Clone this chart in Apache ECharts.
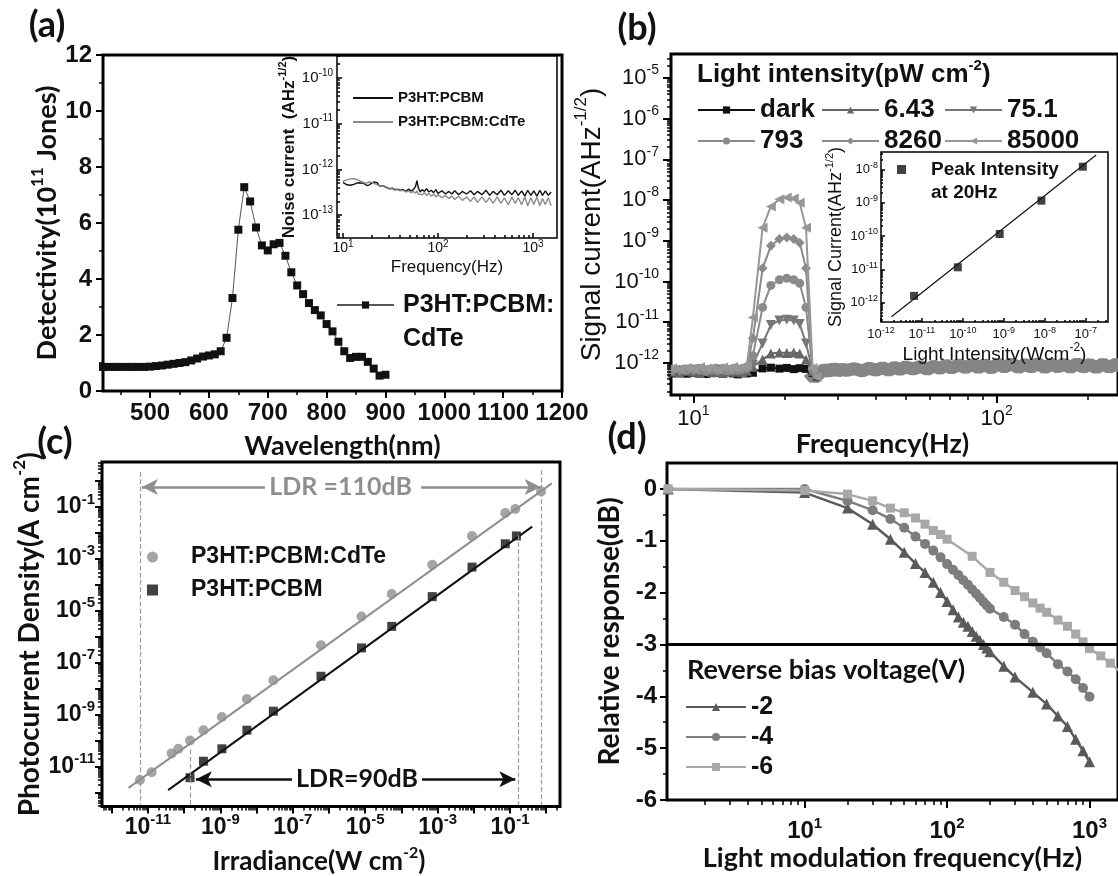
<!DOCTYPE html>
<html>
<head>
<meta charset="utf-8">
<script src="https://cdn.jsdelivr.net/npm/echarts@6/dist/echarts.min.js"></script>
<style>
  html, body { margin: 0; padding: 0; background: #fff; }
  #chart { width: 1118px; height: 876px; }
</style>
</head>
<body>
<div id="chart"></div>
<script>
// ---- (a) detectivity spectrum ----
const wavelength = [420, 430, 440, 450, 460, 470, 480, 490, 500, 510, 520, 530, 540, 550, 560, 570, 580, 590, 600,
  610, 620, 630, 640, 650, 660, 670, 680, 690, 700, 710, 720, 730, 740, 750, 760, 770, 780, 790, 800,
  810, 820, 830, 840, 850, 860, 870, 880, 890, 900]
const detectivity = [0.86, 0.86, 0.86, 0.86, 0.86, 0.86, 0.86, 0.86, 0.87, 0.89, 0.91, 0.94, 0.97, 1.0, 1.03, 1.09, 1.16, 1.23, 1.27,
  1.31, 1.42, 1.9, 3.32, 5.76, 7.28, 6.77, 5.84, 5.2, 5.02, 5.24, 5.29, 4.83, 4.24, 3.77, 3.46, 3.14, 2.89, 2.7, 2.39,
  2.13, 1.76, 1.42, 1.18, 1.22, 1.22, 1.04, 0.8, 0.55, 0.58]
const wavelengthTicks = [500, 600, 700, 800, 900, 1000, 1100, 1200]
const wavelengthMinor = [450, 550, 650, 750, 850, 950, 1050, 1150]

// (a) inset: noise current
const noiseFreq = [10, 11, 12, 13, 14, 15, 16, 17, 18, 19, 20, 21, 22, 23, 24, 25, 27, 29, 31, 33, 35, 37, 40, 43, 46, 49,
  52, 55, 58, 60, 62, 65, 68, 72, 76, 80, 85, 90, 95, 100, 110, 120, 130, 140, 150, 165, 180, 200, 220, 240, 260,
  290, 320, 350, 380, 420, 460, 500, 550, 600, 650, 700, 760, 820, 880, 950, 1020, 1100, 1180, 1260, 1350, 1450, 1550]
const noisePcbm = [5.2e-13, 4.6e-13, 4.5e-13, 4.7e-13, 5.0e-13, 5.1e-13, 5.0e-13, 4.8e-13, 4.4e-13, 4.6e-13, 5.0e-13, 5.3e-13,
  5.5e-13, 5.1e-13, 4.4e-13, 4.1e-13, 4.3e-13, 4.0e-13, 3.8e-13, 3.9e-13, 3.6e-13, 3.7e-13, 3.5e-13, 3.6e-13, 3.3e-13, 3.7e-13,
  3.4e-13, 3.6e-13, 4.2e-13, 5.7e-13, 4.0e-13, 3.2e-13, 3.6e-13, 3.3e-13, 3.8e-13, 3.2e-13, 3.5e-13, 3.1e-13, 3.6e-13, 3.0e-13,
  3.4e-13, 2.9e-13, 3.3e-13, 2.9e-13, 3.4e-13, 2.8e-13, 3.3e-13, 2.9e-13, 3.4e-13, 2.8e-13, 3.3e-13, 2.8e-13, 3.5e-13, 2.7e-13,
  3.3e-13, 2.8e-13, 3.5e-13, 2.7e-13, 3.4e-13, 2.8e-13, 3.5e-13, 2.7e-13, 3.4e-13, 2.6e-13, 3.5e-13, 2.7e-13, 3.4e-13, 2.6e-13,
  3.5e-13, 2.7e-13, 3.4e-13, 2.7e-13, 3.2e-13]
const noiseCdte = [5.5e-13, 5.9e-13, 6.2e-13, 6.3e-13, 6.0e-13, 5.6e-13, 5.3e-13, 5.0e-13, 5.1e-13, 5.3e-13, 5.2e-13, 5.0e-13,
  4.7e-13, 4.6e-13, 4.5e-13, 4.3e-13, 4.2e-13, 3.9e-13, 3.7e-13, 3.8e-13, 3.5e-13, 3.6e-13, 3.4e-13, 3.5e-13, 3.2e-13, 3.4e-13,
  3.1e-13, 3.3e-13, 3.0e-13, 3.4e-13, 2.9e-13, 3.2e-13, 2.8e-13, 3.1e-13, 2.7e-13, 3.0e-13, 2.6e-13, 2.9e-13, 2.5e-13, 2.8e-13,
  2.4e-13, 2.7e-13, 2.3e-13, 2.6e-13, 2.2e-13, 2.6e-13, 2.1e-13, 2.5e-13, 2.0e-13, 2.5e-13, 1.9e-13, 2.5e-13, 1.9e-13, 2.4e-13,
  1.8e-13, 2.5e-13, 1.8e-13, 2.4e-13, 1.7e-13, 2.5e-13, 1.8e-13, 2.4e-13, 1.7e-13, 2.5e-13, 1.6e-13, 2.4e-13, 1.7e-13, 2.5e-13,
  1.6e-13, 2.3e-13, 1.7e-13, 2.4e-13, 1.6e-13]
const noiseFreqTicks = [10, 100, 1000]
const noiseCurrentTicks = [1e-13, 1e-12, 1e-11, 1e-10]

// ---- (b) signal current vs frequency ----
const intensityNames = ['dark', '6.43', '75.1', '793', '8260', '85000']
const signalFreq = [8.5, 9, 9.5, 10, 10.5, 11, 11.5, 12, 12.5, 13, 13.5, 14, 14.5, 15, 15.7, 16.9, 18, 19.2, 20.3, 21.4, 22.4, 23.5, 24.7, 25.5]
const signalDark = [5.5e-13, 5.8e-13, 5.4e-13, 5.6e-13, 5.9e-13, 5.3e-13, 5.6e-13, 5.7e-13, 5.4e-13, 5.8e-13, 5.5e-13, 5.2e-13,
  5.6e-13, 5.5e-13, 5.7e-13, 7.3e-13, 7.6e-13, 7.2e-13, 7.5e-13, 7.0e-13, 7.4e-13, 7.1e-13, 5.6e-13, 4.6e-13]
const signal643 = [6.1e-13, 5.7e-13, 6.4e-13, 6.0e-13, 5.6e-13, 6.3e-13, 5.9e-13, 6.2e-13, 5.8e-13, 6.5e-13, 6.0e-13, 6.3e-13,
  5.9e-13, 6.4e-13, 8.0e-13, 1.2e-12, 1.7e-12, 1.8e-12, 1.75e-12, 1.8e-12, 1.7e-12, 1.2e-12, 6.2e-13, 5.0e-13]
const signal751 = [6.6e-13, 6.2e-13, 6.8e-13, 6.3e-13, 7.0e-13, 6.5e-13, 6.1e-13, 6.9e-13, 6.4e-13, 6.7e-13, 6.2e-13, 6.8e-13,
  6.5e-13, 7.0e-13, 9.0e-13, 3.0e-12, 8.5e-12, 1.1e-11, 1.15e-11, 1.1e-11, 9.0e-12, 3.0e-12, 6.5e-13, 5.2e-13]
const signal793 = [6.3e-13, 6.9e-13, 6.5e-13, 7.1e-13, 6.6e-13, 6.2e-13, 7.0e-13, 6.4e-13, 6.8e-13, 6.3e-13, 7.2e-13, 6.6e-13,
  6.9e-13, 7.3e-13, 1.5e-12, 2.3e-11, 8.0e-11, 1.1e-10, 1.2e-10, 1.1e-10, 9.0e-11, 2.3e-11, 6.8e-13, 5.4e-13]
const signal8260 = [7.0e-13, 6.4e-13, 6.9e-13, 6.5e-13, 7.3e-13, 6.8e-13, 7.1e-13, 6.6e-13, 7.4e-13, 6.9e-13, 6.5e-13, 7.2e-13,
  7.0e-13, 7.6e-13, 4.0e-12, 2.1e-10, 7.5e-10, 1.1e-9, 1.2e-9, 1.1e-9, 9.0e-10, 2.1e-10, 7.0e-13, 5.0e-13]
const signal85000 = [7.4e-13, 6.8e-13, 7.6e-13, 7.0e-13, 7.8e-13, 7.2e-13, 7.5e-13, 6.9e-13, 7.7e-13, 7.3e-13, 7.9e-13, 7.4e-13,
  8.1e-13, 8.5e-13, 1.3e-11, 2.1e-9, 7.0e-9, 1.05e-8, 1.15e-8, 1.1e-8, 8.6e-9, 2.1e-9, 7.5e-13, 4.5e-13]
// dense noise floor after the light pulse (all curves overlap there)
const floorFreq = [24, 25, 26, 27, 28, 29, 30, 31, 32, 34, 36, 38, 40, 42, 44, 46, 48, 50, 53, 56, 59, 62, 65, 68, 71, 75,
  79, 83, 87, 91, 96, 101, 106, 112, 118, 124, 130, 137, 144, 151, 159, 167, 175, 184, 193, 203, 213, 224, 235, 247, 260]
const floorCurrent = [6.0e-13, 4.2e-13, 5.5e-13, 7.0e-13, 6.0e-13, 7.5e-13, 6.2e-13, 7.0e-13, 6.5e-13, 7.2e-13, 6.3e-13, 7.4e-13,
  6.6e-13, 7.6e-13, 6.5e-13, 7.8e-13, 6.8e-13, 8.0e-13, 7.0e-13, 8.2e-13, 6.9e-13, 8.4e-13, 7.2e-13, 8.8e-13, 7.4e-13, 9.0e-13,
  7.5e-13, 9.2e-13, 7.6e-13, 9.0e-13, 7.4e-13, 9.3e-13, 7.8e-13, 9.5e-13, 7.6e-13, 9.2e-13, 7.8e-13, 9.6e-13, 7.5e-13, 9.3e-13,
  7.9e-13, 9.4e-13, 7.6e-13, 9.6e-13, 7.8e-13, 9.2e-13, 7.5e-13, 9.5e-13, 7.7e-13, 9.3e-13, 7.8e-13]
const signalFreqTicks = [10, 100]
const signalCurrentTicks = [1e-12, 1e-11, 1e-10, 1e-9, 1e-8, 1e-7, 1e-6, 1e-5]

// (b) inset: peak signal at 20 Hz
const peakIntensity = [6.43e-12, 7.51e-11, 7.93e-10, 8.26e-9, 8.5e-8]
const peakCurrent = [1.6e-12, 1.15e-11, 1.15e-10, 1.15e-9, 1.2e-8]
const peakFitX = [1.8e-12, 1.8e-7]
const peakFitY = [3.8e-13, 2.7e-8]
const peakXTicks = [1e-12, 1e-11, 1e-10, 1e-9, 1e-8, 1e-7]
const peakYTicks = [1e-12, 1e-11, 1e-10, 1e-9, 1e-8]

// ---- (c) photocurrent vs irradiance ----
const cdteIrr = [6e-12, 1.26e-11, 4.5e-11, 6.9e-11, 1.45e-10, 3.4e-10, 1.1e-9, 5.4e-9, 2.9e-8, 6.0e-7, 7.9e-6, 5.4e-5, 7.1e-4, 8.9e-3, 7.4e-2, 1.4e-1, 7.2e-1]
const cdteJ = [3e-12, 6e-12, 3.2e-11, 4.8e-11, 1e-10, 2.5e-10, 8.1e-10, 4e-9, 2.1e-8, 4.7e-7, 6e-6, 4.4e-5, 5.9e-4, 7.6e-3, 5.8e-2, 8.3e-2, 3.9e-1]
const pcbmIrr = [1.45e-10, 3.4e-10, 1.1e-9, 5.4e-9, 2.9e-8, 6e-7, 7.9e-6, 5.4e-5, 7.1e-4, 8.9e-3, 7.4e-2, 1.5e-1]
const pcbmJ = [3.7e-12, 1.6e-11, 4.8e-11, 2.5e-10, 1.35e-9, 3e-8, 3.7e-7, 2.5e-6, 3.5e-5, 4.8e-4, 3.8e-3, 7.6e-3]
const cdteFitX = [2.9e-12, 1.43]
const cdteFitY = [1.5e-12, 0.81]
const pcbmFitX = [3.6e-11, 0.41]
const pcbmFitY = [1.23e-12, 0.0174]
const irrLabelTicks = [1e-11, 1e-9, 1e-7, 1e-5, 1e-3, 1e-1]
const irrTicks = [1e-12, 1e-11, 1e-10, 1e-9, 1e-8, 1e-7, 1e-6, 1e-5, 1e-4, 1e-3, 1e-2, 1e-1, 1]
const jLabelTicks = [1e-11, 1e-9, 1e-7, 1e-5, 1e-3, 1e-1]
const jTicks = [1e-12, 1e-11, 1e-10, 1e-9, 1e-8, 1e-7, 1e-6, 1e-5, 1e-4, 1e-3, 1e-2, 1e-1, 1]

// ---- (d) frequency response ----
const biasNames = ['-2', '-4', '-6']
const freqBias2 = [1.1, 10, 20, 30, 40, 50, 60, 70, 80, 90, 100, 110, 120, 130, 140, 150, 160, 170, 180, 190, 200, 250, 300, 400, 500, 600, 700, 800, 900, 1000]
const respBias2 = [0, -0.07, -0.37, -0.68, -0.97, -1.22, -1.44, -1.61, -1.8, -2.0, -2.17, -2.33, -2.47, -2.57, -2.65, -2.75, -2.84, -2.92, -3.0, -3.07, -3.14, -3.42, -3.63, -3.92, -4.15, -4.38, -4.58, -4.83, -5.05, -5.26]
const freqBias4 = [1.1, 10, 20, 30, 40, 50, 60, 70, 80, 90, 100, 110, 120, 130, 140, 150, 160, 170, 180, 190, 200, 250, 300, 350, 400, 450, 500, 600, 700, 800, 900, 1000]
const respBias4 = [0, 0, -0.23, -0.41, -0.58, -0.75, -0.92, -1.06, -1.19, -1.32, -1.45, -1.56, -1.66, -1.76, -1.85, -1.94, -2.02, -2.1, -2.18, -2.25, -2.31, -2.47, -2.62, -2.8, -2.95, -3.06, -3.17, -3.38, -3.52, -3.67, -3.84, -4.01]
const freqBias6 = [1.1, 10, 20, 30, 40, 50, 60, 70, 80, 90, 100, 150, 200, 250, 300, 350, 400, 450, 500, 600, 700, 800, 900, 1000, 1200, 1400, 1600]
const respBias6 = [0, -0.03, -0.1, -0.23, -0.37, -0.46, -0.56, -0.68, -0.8, -0.88, -0.97, -1.3, -1.61, -1.8, -1.96, -2.08, -2.2, -2.3, -2.38, -2.53, -2.65, -2.8, -2.95, -3.08, -3.22, -3.36, -3.5]
const modFreqTicks = [10, 100, 1000]
const respTicks = [-6, -5, -4, -3, -2, -1, 0]
const respMinor = [-5.5, -4.5, -3.5, -2.5, -1.5, -0.5]

const ARIAL = '"Liberation Sans", Arial, sans-serif'
const LATO = 'Lato, "Open Sans", sans-serif'
const INK = '#111'

const pairs = (xs, ys) => xs.map((x, i) => [x, ys[i]])
const noLine = { show: false, onZero: false }

// minor ticks of a log axis: 2..9 in every decade
function logMinor(e0, e1) {
  const out = []
  for (let e = e0; e <= e1; e++) {
    for (let k = 2; k <= 9; k++) out.push(Number(k + 'e' + e))
  }
  return out
}

function supLabel(base, sup, weight, margin, values) {
  return {
    margin: margin,
    customValues: values,
    formatter: v => '{b|10}{s|' + Math.round(Math.log10(v)) + '}',
    rich: {
      b: { fontFamily: ARIAL, fontSize: base, fontWeight: weight, color: INK, lineHeight: Math.round(base * 1.3) },
      s: { fontFamily: ARIAL, fontSize: sup, fontWeight: weight, color: INK, lineHeight: sup, verticalAlign: 'top' }
    }
  }
}

function richName(size, sup, family, weight, padding) {
  return {
    color: INK,
    padding: padding || 0,
    rich: {
      t: { fontFamily: family, fontSize: size, fontWeight: weight, color: INK, lineHeight: Math.round(size * 1.35) },
      s: { fontFamily: family, fontSize: Math.round(size * 0.62), fontWeight: weight, color: INK, lineHeight: sup, verticalAlign: 'top' }
    }
  }
}

function plainName(size, family, weight, padding) {
  return { fontFamily: family, fontSize: size, fontWeight: weight, color: INK, padding: padding || 0 }
}

function tick(values, length, inside, width) {
  return { show: true, customValues: values, length: length, inside: !!inside, lineStyle: { color: '#000', width: width || 2 } }
}

function minorAxis(type, grid, min, max, values, length, inside, position) {
  return {
    type: type, gridIndex: grid, min: min, max: max, position: position, z: 12,
    axisLine: noLine, splitLine: { show: false }, axisLabel: { show: false },
    axisTick: tick(values, length, inside, 1.5)
  }
}

const frame = (left, top, width, height, bw) => ({
  left, top, width, height, show: true, borderColor: '#000', borderWidth: bw, backgroundColor: 'transparent'
})

const chart = echarts.init(document.getElementById('chart'))

const xAxis = [
  // 0: (a) wavelength
  {
    type: 'value', gridIndex: 0, min: 420, max: 1200, position: 'bottom',
    axisLine: noLine, splitLine: { show: false },
    axisTick: tick(wavelengthTicks, 7),
    axisLabel: {
      customValues: wavelengthTicks, margin: 10, showMaxLabel: true, hideOverlap: false, formatter: v => String(v),
      fontFamily: ARIAL, fontWeight: 'bold', fontSize: 24, color: INK
    },
    name: 'Wavelength(nm)', nameLocation: 'middle', nameGap: 42, nameTextStyle: plainName(27, LATO, 'bold', [0, 0, 0, 20])
  },
  minorAxis('value', 0, 420, 1200, wavelengthMinor, 4, false, 'bottom'),
  // 2: (a) inset frequency
  {
    type: 'log', logBase: 10, gridIndex: 1, min: 8.65, max: 1790, position: 'bottom', z: 12,
    axisLine: noLine, splitLine: { show: false },
    axisTick: tick(noiseFreqTicks, 5, true, 1.5),
    axisLabel: supLabel(14, 10, 'normal', 1, noiseFreqTicks),
    name: 'Frequency(Hz)', nameLocation: 'middle', nameGap: 21, nameTextStyle: plainName(17, ARIAL, 'normal')
  },
  minorAxis('log', 1, 8.65, 1790, logMinor(0, 3), 3, true, 'bottom'),
  // 4: (b) frequency
  {
    type: 'log', logBase: 10, gridIndex: 2, min: 8.43, max: 251.2, position: 'bottom',
    axisLine: noLine, splitLine: { show: false },
    axisTick: tick(signalFreqTicks, 8),
    axisLabel: supLabel(22, 14, 'normal', 9, signalFreqTicks),
    name: 'Frequency(Hz)', nameLocation: 'middle', nameGap: 36, nameTextStyle: plainName(27, LATO, 'bold', [0, 24, 0, 0])
  },
  minorAxis('log', 2, 8.43, 251.2, logMinor(0, 2), 5, false, 'bottom'),
  // 6: (b) inset light intensity
  {
    type: 'log', logBase: 10, gridIndex: 3, min: 1e-12, max: 3.5e-7, position: 'bottom', z: 12,
    axisLine: noLine, splitLine: { show: false },
    axisTick: tick(peakXTicks, 4, true, 1.5),
    axisLabel: supLabel(13, 9, 'normal', 4, peakXTicks),
    name: '{t|Light Intensity(Wcm}{s|-2}{t|)}', nameLocation: 'middle', nameGap: 18, nameTextStyle: richName(19, 10, ARIAL, 'normal')
  },
  minorAxis('log', 3, 1e-12, 3.5e-7, logMinor(-12, -7), 2, true, 'bottom'),
  // 8: (c) irradiance
  {
    type: 'log', logBase: 10, gridIndex: 4, min: 5.37e-13, max: 2.4, position: 'bottom',
    axisLine: noLine, splitLine: { show: false },
    axisTick: tick(irrTicks, 7),
    axisLabel: supLabel(23, 15, 'bold', 6, irrLabelTicks),
    name: '{t|Irradiance(W cm}{s|-2}{t|)}', nameLocation: 'middle', nameGap: 38, nameTextStyle: richName(26, 14, LATO, 'bold', [0, 24, 0, 0])
  },
  minorAxis('log', 4, 5.37e-13, 2.4, logMinor(-13, 0), 4, false, 'bottom'),
  // 10: (d) modulation frequency
  {
    type: 'log', logBase: 10, gridIndex: 5, min: 1.08, max: 1585, position: 'bottom',
    axisLine: noLine, splitLine: { show: false },
    axisTick: tick(modFreqTicks, 8),
    axisLabel: supLabel(24, 15, 'bold', 16, modFreqTicks),
    name: 'Light modulation frequency(Hz)', nameLocation: 'middle', nameGap: 38, nameTextStyle: plainName(27, LATO, 'bold')
  },
  minorAxis('log', 5, 1.08, 1585, logMinor(0, 3), 5, false, 'bottom')
]

const yAxis = [
  // 0: (a) detectivity
  {
    type: 'value', gridIndex: 0, min: 0, max: 12, interval: 2, position: 'left',
    axisLine: noLine, splitLine: { show: false },
    axisTick: { length: 7, lineStyle: { color: '#000', width: 2 } },
    minorTick: { show: true, splitNumber: 2, length: 4, lineStyle: { color: '#000', width: 1.5 } },
    axisLabel: { margin: 11, fontFamily: ARIAL, fontWeight: 'bold', fontSize: 24, color: INK },
    name: '{t|Detectivity(10}{s|11}{t| Jones)}', nameLocation: 'middle', nameGap: 38, nameTextStyle: richName(27, 14, LATO, 'bold')
  },
  // 1: (a) inset noise current
  {
    type: 'log', logBase: 10, gridIndex: 1, min: 3.16e-14, max: 3.02e-10, position: 'left', z: 12,
    axisLine: noLine, splitLine: { show: false },
    axisTick: tick(noiseCurrentTicks, 5, true, 1.5),
    axisLabel: supLabel(15, 10, 'normal', 4, noiseCurrentTicks),
    name: '{t|Noise current  (AHz}{s|-1/2}{t|)}', nameLocation: 'middle', nameGap: 34, nameTextStyle: richName(17, 10, ARIAL, 'bold')
  },
  minorAxis('log', 1, 3.16e-14, 3.02e-10, logMinor(-14, -10), 3, true, 'left'),
  // 3: (b) signal current
  {
    type: 'log', logBase: 10, gridIndex: 2, min: 1.62e-13, max: 3.89e-5, position: 'left',
    axisLine: noLine, splitLine: { show: false },
    axisTick: tick(signalCurrentTicks, 8),
    axisLabel: supLabel(22, 14, 'normal', 12, signalCurrentTicks),
    name: '{t|Signal current(AHz}{s|-1/2}{t|)}', nameLocation: 'middle', nameGap: 60, nameTextStyle: richName(28, 15, ARIAL, 'normal')
  },
  minorAxis('log', 2, 1.62e-13, 3.89e-5, logMinor(-13, -5), 4, false, 'left'),
  // 5: (b) inset signal current
  {
    type: 'log', logBase: 10, gridIndex: 3, min: 2.63e-13, max: 3.31e-8, position: 'left', z: 12,
    axisLine: noLine, splitLine: { show: false },
    axisTick: tick(peakYTicks, 4, true, 1.5),
    axisLabel: supLabel(13, 9, 'normal', 3, peakYTicks),
    name: '{t|Signal Current(AHz}{s|-1/2}{t|)}', nameLocation: 'middle', nameGap: 33, nameTextStyle: richName(18, 10, ARIAL, 'normal')
  },
  minorAxis('log', 3, 2.63e-13, 3.31e-8, logMinor(-13, -8), 2, true, 'left'),
  // 7: (c) photocurrent density
  {
    type: 'log', logBase: 10, gridIndex: 4, min: 2.88e-13, max: 5.37, position: 'left',
    axisLine: noLine, splitLine: { show: false },
    axisTick: tick(jTicks, 7),
    axisLabel: supLabel(23, 15, 'bold', 7, jLabelTicks),
    name: '{t|Photocurrent Density(A cm}{s|-2}{t|)}', nameLocation: 'middle', nameGap: 53, nameTextStyle: richName(28, 15, LATO, 'bold')
  },
  minorAxis('log', 4, 2.88e-13, 5.37, logMinor(-13, 0), 4, false, 'left'),
  // 9: (d) relative response
  {
    type: 'value', gridIndex: 5, min: -6, max: 0.5, position: 'left',
    axisLine: noLine, splitLine: { show: false },
    axisTick: tick(respTicks, 7),
    axisLabel: { customValues: respTicks, margin: 10, fontFamily: ARIAL, fontWeight: 'bold', fontSize: 24, color: INK },
    name: 'Relative response(dB)', nameLocation: 'middle', nameGap: 43, nameTextStyle: plainName(28, LATO, 'bold')
  },
  minorAxis('value', 5, -6, 0.5, respMinor, 4, false, 'left')
]

const signalStyles = [
  { data: signalDark, symbol: 'rect', rotate: 0, color: '#111111', size: 8 },
  { data: signal643, symbol: 'triangle', rotate: 0, color: '#666666', size: 10 },
  { data: signal751, symbol: 'triangle', rotate: 180, color: '#777777', size: 10 },
  { data: signal793, symbol: 'circle', rotate: 0, color: '#8a8a8a', size: 9 },
  { data: signal8260, symbol: 'diamond', rotate: 0, color: '#8a8a8a', size: 10 },
  { data: signal85000, symbol: 'triangle', rotate: 90, color: '#979797', size: 10 }
]
const signalSeries = signalStyles.map((s, i) => ({
  name: intensityNames[i], type: 'line', xAxisIndex: 4, yAxisIndex: 3,
  data: pairs(signalFreq, s.data), symbol: s.symbol, symbolRotate: s.rotate, symbolSize: s.size,
  itemStyle: { color: s.color }, lineStyle: { color: s.color, width: 2 }, z: 3 + i
}))

const dashed = { color: '#9a9a9a', width: 1.2, type: 'dashed' }
const ldrFont = { fontFamily: LATO, fontWeight: 'bold', fontSize: 25 }

const series = [
  // (a)
  {
    name: 'P3HT:PCBM:CdTe (D*)', type: 'line', xAxisIndex: 0, yAxisIndex: 0,
    data: pairs(wavelength, detectivity), symbol: 'rect', symbolSize: 8,
    itemStyle: { color: INK }, lineStyle: { color: '#555', width: 1 }
  },
  {
    name: 'P3HT:PCBM (noise)', type: 'line', xAxisIndex: 2, yAxisIndex: 1, z: 12,
    data: pairs(noiseFreq, noisePcbm), symbol: 'none', itemStyle: { color: INK }, lineStyle: { color: INK, width: 1.4 }
  },
  {
    name: 'P3HT:PCBM:CdTe (noise)', type: 'line', xAxisIndex: 2, yAxisIndex: 1, z: 12,
    data: pairs(noiseFreq, noiseCdte), symbol: 'none', itemStyle: { color: '#8a8a8a' }, lineStyle: { color: '#8a8a8a', width: 1.4 }
  },
  // (b)
  {
    name: 'noise floor', type: 'line', xAxisIndex: 4, yAxisIndex: 3, z: 2, silent: true,
    data: pairs(floorFreq, floorCurrent), symbol: 'none', lineStyle: { color: '#858585', width: 13 }
  },
  ...signalSeries,
  {
    name: 'Peak Intensity at 20Hz', type: 'scatter', xAxisIndex: 6, yAxisIndex: 5, z: 13,
    data: pairs(peakIntensity, peakCurrent), symbol: 'rect', symbolSize: 8, itemStyle: { color: INK }
  },
  {
    name: 'peak fit', type: 'line', xAxisIndex: 6, yAxisIndex: 5, z: 12,
    data: pairs(peakFitX, peakFitY), symbol: 'none', lineStyle: { color: INK, width: 1.2 }
  },
  // (c)
  {
    name: 'P3HT:PCBM:CdTe fit', type: 'line', xAxisIndex: 8, yAxisIndex: 7,
    data: pairs(cdteFitX, cdteFitY), symbol: 'none', lineStyle: { color: '#8f8f8f', width: 2 },
    markLine: {
      silent: true, symbol: ['none', 'none'], label: { show: false }, lineStyle: dashed,
      data: [
        [{ coord: [6e-12, 2.2] }, { coord: [6e-12, 3.2e-13] }],
        [{ coord: [0.74, 2.6] }, { coord: [0.74, 3.2e-13] }],
        [{ coord: [1.7e-8, 0.59], lineStyle: { color: '#8f8f8f', width: 2.5, type: 'solid' } },
          { coord: [6.8e-12, 0.59], symbol: 'arrow', symbolSize: [12, 16] }],
        [{ coord: [3.5e-4, 0.59], lineStyle: { color: '#8f8f8f', width: 2.5, type: 'solid' } },
          { coord: [0.7, 0.59], symbol: 'arrow', symbolSize: [12, 16] }]
      ]
    },
    markPoint: {
      silent: true, symbol: 'rect', symbolSize: 1, itemStyle: { color: 'rgba(0,0,0,0)' },
      data: [{ coord: [2.1e-6, 0.59], label: Object.assign({ show: true, position: 'inside', formatter: 'LDR =110dB', color: '#8f8f8f' }, ldrFont) }]
    }
  },
  {
    name: 'P3HT:PCBM fit', type: 'line', xAxisIndex: 8, yAxisIndex: 7,
    data: pairs(pcbmFitX, pcbmFitY), symbol: 'none', lineStyle: { color: INK, width: 2 },
    markLine: {
      silent: true, symbol: ['none', 'none'], label: { show: false }, lineStyle: dashed,
      data: [
        [{ coord: [1.45e-10, 4.5e-11] }, { coord: [1.45e-10, 3.2e-13] }],
        [{ coord: [0.17, 8.3e-3] }, { coord: [0.17, 3.2e-13] }],
        [{ coord: [9.5e-8, 3.2e-12], lineStyle: { color: INK, width: 2.5, type: 'solid' } },
          { coord: [2.1e-10, 3.2e-12], symbol: 'arrow', symbolSize: [12, 16] }],
        [{ coord: [3.7e-4, 3.2e-12], lineStyle: { color: INK, width: 2.5, type: 'solid' } },
          { coord: [0.14, 3.2e-12], symbol: 'arrow', symbolSize: [12, 16] }]
      ]
    },
    markPoint: {
      silent: true, symbol: 'rect', symbolSize: 1, itemStyle: { color: 'rgba(0,0,0,0)' },
      data: [{ coord: [5.9e-6, 3.2e-12], label: Object.assign({ show: true, position: 'inside', formatter: 'LDR=90dB', color: INK }, ldrFont) }]
    }
  },
  {
    name: 'P3HT:PCBM:CdTe', type: 'scatter', xAxisIndex: 8, yAxisIndex: 7,
    data: pairs(cdteIrr, cdteJ), symbol: 'circle', symbolSize: 10, itemStyle: { color: '#8f8f8f' }
  },
  {
    name: 'P3HT:PCBM', type: 'scatter', xAxisIndex: 8, yAxisIndex: 7,
    data: pairs(pcbmIrr, pcbmJ), symbol: 'rect', symbolSize: 9, itemStyle: { color: INK }
  },
  // (d)
  {
    name: '-2', type: 'line', xAxisIndex: 10, yAxisIndex: 9,
    data: pairs(freqBias2, respBias2), symbol: 'triangle', symbolSize: 11,
    itemStyle: { color: '#5a5a5a' }, lineStyle: { color: '#5a5a5a', width: 2.5 },
    markLine: {
      silent: true, symbol: ['none', 'none'], label: { show: false },
      lineStyle: { color: '#000', width: 3, type: 'solid' }, data: [{ yAxis: -3 }]
    }
  },
  {
    name: '-4', type: 'line', xAxisIndex: 10, yAxisIndex: 9,
    data: pairs(freqBias4, respBias4), symbol: 'circle', symbolSize: 10,
    itemStyle: { color: '#7d7d7d' }, lineStyle: { color: '#7d7d7d', width: 2.5 }
  },
  {
    name: '-6', type: 'line', xAxisIndex: 10, yAxisIndex: 9,
    data: pairs(freqBias6, respBias6), symbol: 'rect', symbolSize: 9,
    itemStyle: { color: '#a8a8a8' }, lineStyle: { color: '#a8a8a8', width: 2.5 }
  }
]

const legendText = (size, extra) => Object.assign({ fontFamily: ARIAL, fontWeight: 'bold', fontSize: size, color: INK }, extra || {})
const colLegend = (names, left) => ({
  data: names, left: left, top: 95, orient: 'vertical', padding: 0, itemGap: 1, itemWidth: 57, itemHeight: 9,
  selectedMode: false, textStyle: legendText(26, { lineHeight: 30 })
})

const option = {
  animation: false,
  backgroundColor: '#fff',
  grid: [
    frame(103, 55, 459, 336, 3),
    Object.assign(frame(337, 56, 220, 182, 1.5), { backgroundColor: '#fff', z: 5 }),
    frame(671, 54, 457, 341, 3),
    Object.assign(frame(881, 152, 227, 170, 1.5), { backgroundColor: '#fff', z: 5 }),
    frame(102, 462, 458, 345, 3),
    frame(667, 463, 455, 337, 3)
  ],
  xAxis: xAxis,
  yAxis: yAxis,
  legend: [
    {
      // blank first line keeps the icon level with "P3HT:PCBM:"
      data: ['P3HT:PCBM:CdTe (D*)'], left: 336, top: 254, orient: 'vertical', padding: 0,
      itemWidth: 57, itemHeight: 9, selectedMode: false, formatter: () => ' \nP3HT:PCBM:\nCdTe',
      textStyle: legendText(25, { lineHeight: 34, padding: [0, 0, 0, 4] })
    },
    {
      data: [{ name: 'P3HT:PCBM (noise)', icon: 'rect' }, { name: 'P3HT:PCBM:CdTe (noise)', icon: 'rect' }],
      left: 353, top: 89, orient: 'vertical', padding: 0, z: 13,
      itemGap: 6, itemWidth: 40, itemHeight: 2, selectedMode: false, formatter: n => n.replace(' (noise)', ''),
      textStyle: legendText(15, { lineHeight: 18 })
    },
    colLegend(['dark', '793'], 697),
    colLegend(['6.43', '8260'], 821),
    colLegend(['75.1', '85000'], 944),
    {
      data: ['Peak Intensity at 20Hz'], left: 897, top: 135, orient: 'vertical', padding: 0, z: 13,
      itemWidth: 9, itemHeight: 9, selectedMode: false, formatter: () => ' \nPeak Intensity\nat 20Hz',
      textStyle: legendText(19, { lineHeight: 23, padding: [0, 0, 0, 20] })
    },
    {
      data: ['P3HT:PCBM:CdTe', 'P3HT:PCBM'], left: 147, top: 543, orient: 'vertical', padding: 0,
      itemGap: 5, itemWidth: 11, itemHeight: 11, selectedMode: false,
      textStyle: legendText(23, { lineHeight: 28, padding: [0, 0, 0, 28] })
    },
    {
      data: biasNames, left: 685, top: 693, orient: 'vertical', padding: 0,
      itemGap: 2, itemWidth: 60, itemHeight: 10, selectedMode: false,
      textStyle: legendText(25, { lineHeight: 28 })
    }
  ],
  graphic: [
    { type: 'text', x: 47, y: 25, style: { text: '(a)', fontFamily: LATO, fontSize: 36, fontWeight: 'bold', fill: INK, align: 'center', verticalAlign: 'middle' } },
    { type: 'text', x: 637, y: 28, style: { text: '(b)', fontFamily: LATO, fontSize: 36, fontWeight: 'bold', fill: INK, align: 'center', verticalAlign: 'middle' } },
    { type: 'text', x: 55, y: 442, style: { text: '(c)', fontFamily: LATO, fontSize: 36, fontWeight: 'bold', fill: INK, align: 'center', verticalAlign: 'middle' } },
    { type: 'text', x: 627, y: 437, style: { text: '(d)', fontFamily: LATO, fontSize: 36, fontWeight: 'bold', fill: INK, align: 'center', verticalAlign: 'middle' } },
    {
      type: 'text', x: 697, y: 75, style: {
        text: '{t|Light intensity(pW cm}{s|-2}{t|)}', align: 'left', verticalAlign: 'middle',
        rich: {
          t: { fontFamily: ARIAL, fontSize: 26, fontWeight: 'bold', fill: INK, lineHeight: 34 },
          s: { fontFamily: ARIAL, fontSize: 15, fontWeight: 'bold', fill: INK, lineHeight: 15, verticalAlign: 'top' }
        }
      }
    },
    {
      type: 'text', x: 687, y: 670, style: {
        text: 'Reverse bias voltage(V)', fontFamily: LATO, fontSize: 27, fontWeight: 'bold', fill: INK, align: 'left', verticalAlign: 'middle'
      }
    }
  ],
  series: series
}

chart.setOption(option)
</script>
</body>
</html>
